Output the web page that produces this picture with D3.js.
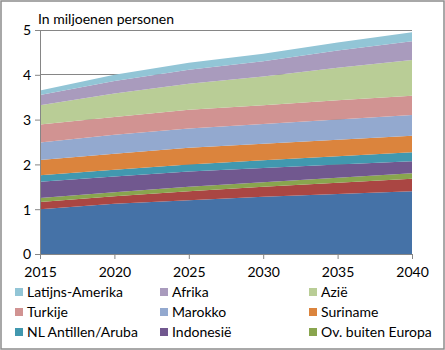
<!DOCTYPE html>
<html><head><meta charset="utf-8">
<script src="https://cdn.jsdelivr.net/npm/d3@7"></script>
<style>
html,body{margin:0;padding:0;background:#fff;}
svg{display:block;font-family:Lato,"Open Sans",sans-serif;}
</style></head>
<body>
<svg id="chart" width="445" height="350"></svg>
<script>
const years = [2015, 2020, 2025, 2030, 2035, 2040];
const yTicks = [0, 1, 2, 3, 4, 5];
// bottom to top stacking order
const seriesNames = ["Overig", "Overig2", "Ov. buiten Europa", "Indonesië", "NL Antillen/Aruba", "Suriname", "Marokko", "Turkije", "Azië", "Afrika", "Latijns-Amerika"];
const overig      = [1.00, 1.12, 1.20, 1.28, 1.34, 1.40];
const overig2     = [0.16, 0.17, 0.20, 0.22, 0.25, 0.28];
const ovBuiten    = [0.09, 0.09, 0.10, 0.10, 0.11, 0.12];
const indonesie   = [0.36, 0.35, 0.34, 0.32, 0.30, 0.27];
const antillen    = [0.15, 0.15, 0.16, 0.17, 0.18, 0.20];
const suriname    = [0.34, 0.36, 0.37, 0.37, 0.37, 0.37];
const marokko     = [0.39, 0.42, 0.43, 0.44, 0.45, 0.46];
const turkije     = [0.40, 0.40, 0.42, 0.42, 0.43, 0.43];
const azie        = [0.43, 0.52, 0.58, 0.64, 0.73, 0.80];
const afrika      = [0.23, 0.28, 0.31, 0.34, 0.38, 0.42];
const latAmerika  = [0.10, 0.14, 0.16, 0.17, 0.18, 0.20];
const seriesValues = [overig, overig2, ovBuiten, indonesie, antillen, suriname, marokko, turkije, azie, afrika, latAmerika];
const colors = ["#4572A7", "#AA4643", "#89A54E", "#71588F", "#4198AF", "#DB843D", "#93A9CF", "#D19392", "#B9CD96", "#A99BBD", "#92C5D6"];
const legendNames = ["Latijns-Amerika", "Afrika", "Azië", "Turkije", "Marokko", "Suriname", "NL Antillen/Aruba", "Indonesië", "Ov. buiten Europa"];

const svg = d3.select("#chart");
svg.append("rect").attr("x", 1).attr("y", 1).attr("width", 443).attr("height", 348)
  .attr("fill", "#fff").attr("stroke", "#8c8c8c").attr("stroke-width", 1.5);

const m = {l: 40, r: 412, t: 30, b: 254};
const x = d3.scaleLinear().domain([2015, 2040]).range([m.l, m.r]);
const y = d3.scaleLinear().domain([0, 5]).range([m.b, m.t]);

const table = years.map((yr, i) => {
  const row = {year: yr};
  seriesNames.forEach((n, j) => row[n] = seriesValues[j][i]);
  return row;
});
const stack = d3.stack().keys(seriesNames)(table);

// gridlines
svg.append("g").selectAll("line").data(yTicks.filter(d => d > 0)).join("line")
  .attr("x1", m.l).attr("x2", m.r).attr("y1", d => y(d)).attr("y2", d => y(d))
  .attr("stroke", "#868686").attr("stroke-width", 1).attr("shape-rendering", "crispEdges");

const area = d3.area().x(d => x(d.data.year)).y0(d => y(d[0])).y1(d => y(d[1]));
svg.append("g").selectAll("path").data(stack).join("path")
  .attr("d", area).attr("fill", (d, i) => colors[i]);

// axes
const xAxis = svg.append("g").attr("transform", `translate(0,${m.b})`)
  .call(d3.axisBottom(x).tickValues(years).tickFormat(d3.format("d")).tickSize(5).tickSizeOuter(0));
const yAxis = svg.append("g").attr("transform", `translate(${m.l},0)`)
  .call(d3.axisLeft(y).tickValues(yTicks).tickFormat(d3.format("d")).tickSize(5).tickSizeOuter(0));
[xAxis, yAxis].forEach(g => {
  g.select(".domain").attr("stroke", "#868686");
  g.selectAll(".tick line").attr("stroke", "#868686");
  g.selectAll("text").attr("fill", "#000").style("font-size", "14px").style("font-family", "Lato, 'Open Sans', sans-serif");
});
xAxis.selectAll("text").attr("dy", "1.1em");
yAxis.selectAll("text").attr("x", -9).attr("dy", "0.35em");

svg.append("text").attr("x", 38).attr("y", 24).text("In miljoenen personen")
  .style("font-size", "14px").attr("fill", "#000");

// legend
const colX = [15, 160, 309];
const rowY = [292, 312, 332];
const lg = svg.append("g").selectAll("g").data(legendNames).join("g")
  .attr("transform", (d, i) => `translate(${colX[i % 3]},${rowY[Math.floor(i / 3)]})`);
lg.append("rect").attr("x", 0).attr("y", -4).attr("width", 8).attr("height", 8)
  .attr("fill", d => colors[seriesNames.indexOf(d)]);
lg.append("text").attr("x", 12).attr("y", 0).attr("dy", "0.35em").text(d => d)
  .style("font-size", "14px").attr("fill", "#000");
</script>
</body></html>
